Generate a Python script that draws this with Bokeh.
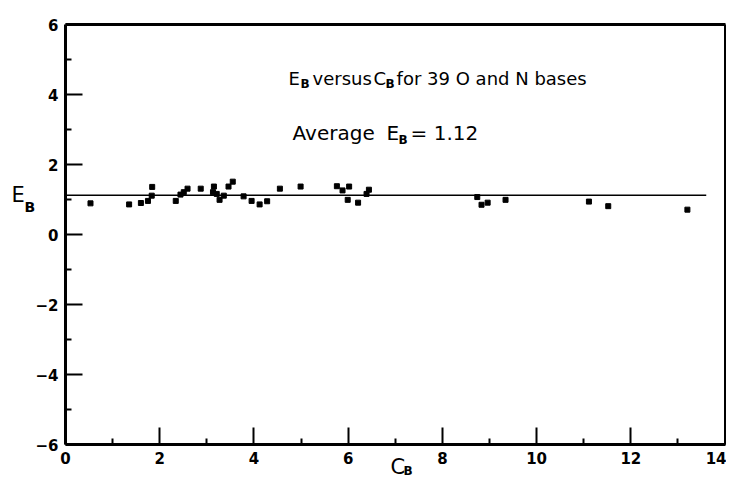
from bokeh.plotting import figure
from bokeh.models import Label, FixedTicker, Range1d, LinearAxis
from bokeh.embed import file_html
from bokeh.resources import INLINE

# Data
c_b = [0.53, 1.35, 1.60, 1.75, 1.84, 1.83, 2.34, 2.44, 2.51, 2.59,
       2.87, 3.15, 3.13, 3.21, 3.27, 3.36, 3.46, 3.55, 3.78, 3.95,
       4.12, 4.28, 4.55, 4.99, 5.76, 5.88, 6.02, 5.99, 6.21, 6.39,
       6.44, 8.74, 8.83, 8.96, 9.34, 11.11, 11.52, 13.20]
e_b = [0.89, 0.86, 0.90, 0.96, 1.36, 1.11, 0.96, 1.14, 1.21, 1.31,
       1.31, 1.37, 1.21, 1.16, 0.99, 1.11, 1.37, 1.51, 1.09, 0.96,
       0.86, 0.95, 1.31, 1.37, 1.38, 1.26, 1.37, 0.99, 0.91, 1.16,
       1.28, 1.07, 0.85, 0.91, 0.99, 0.94, 0.81, 0.71]
average_e_b = 1.12
avg_line_x = [0.0, 13.6]

x_lim = (0, 14)
y_lim = (-6, 6)
x_major = [0, 2, 4, 6, 8, 10, 12, 14]
x_minor = [1, 3, 5, 7, 9, 11, 13]
y_major = [-6, -4, -2, 0, 2, 4, 6]
y_minor = [-5, -3, -1, 1, 3, 5]

FONT = "DejaVu Sans"

p = figure(width=726, height=481, output_backend="svg", toolbar_location=None,
           x_range=Range1d(-1.38, 14.03), y_range=Range1d(-7.057, 6.686),
           min_border=0)
p.grid.visible = False
p.background_fill_color = "white"
p.border_fill_color = "white"
p.outline_line_color = None

xa = p.xaxis[0]
ya = p.yaxis[0]
xa.fixed_location = y_lim[0]
xa.bounds = x_lim
ya.fixed_location = x_lim[0]
ya.bounds = y_lim

for ax, maj, mnr in ((xa, x_major, x_minor), (ya, y_major, y_minor)):
    ax.ticker = FixedTicker(ticks=maj, minor_ticks=mnr)
    ax.axis_line_width = 3
    ax.axis_line_color = "black"
    ax.major_tick_in = 17
    ax.major_tick_out = 0
    ax.minor_tick_in = 6
    ax.minor_tick_out = 0
    ax.major_tick_line_width = 2
    ax.minor_tick_line_width = 2
    ax.major_label_text_font = FONT
    ax.major_label_text_font_style = "bold"
    ax.major_label_text_font_size = "15px"
    ax.major_label_text_color = "black"
ya.major_label_standoff = 7
xa.major_label_standoff = 7

# top and right border of the frame
top = LinearAxis(fixed_location=y_lim[1], bounds=x_lim, ticker=FixedTicker(ticks=[]),
                 axis_line_width=3, major_tick_in=0, major_tick_out=0,
                 minor_tick_in=0, minor_tick_out=0)
right = LinearAxis(fixed_location=x_lim[1], bounds=y_lim, ticker=FixedTicker(ticks=[]),
                   axis_line_width=3, major_tick_in=0, major_tick_out=0,
                   minor_tick_in=0, minor_tick_out=0)
p.add_layout(top, "above")
p.add_layout(right, "right")

p.line(avg_line_x, [average_e_b, average_e_b], line_color="black", line_width=1.5)
p.scatter(c_b, e_b, marker="square", size=5, fill_color="black", line_color="black")

def lab(x, y, text, size, style="normal"):
    p.add_layout(Label(x=x, y=y, text=text, text_font=FONT, text_font_size=size,
                       text_font_style=style, text_align="left",
                       text_baseline="alphabetic", text_color="black"))

# Title line
lab(4.735, 4.458, "E", "18px")
lab(4.989, 4.286, "B", "12px", "bold")
lab(5.244, 4.458, "versus", "18px")
lab(6.539, 4.458, "C", "18px")
lab(6.794, 4.286, "B", "12px", "bold")
lab(7.028, 4.458, "for 39 O and N bases", "18px")

# Average line
lab(4.820, 2.886, "Average", "20px")
lab(6.815, 2.886, "E", "20px")
lab(7.070, 2.686, "B", "12px", "bold")
lab(7.325, 2.886, "= 1.12", "20px")

# Axis labels
lab(-1.146, 1.115, "E", "21px")
lab(-0.870, 0.772, "B", "14px", "bold")
lab(6.900, -6.629, "C", "21px")
lab(7.176, -6.743, "B", "12px", "bold")

open("out.html", "w").write(file_html(p, INLINE))
